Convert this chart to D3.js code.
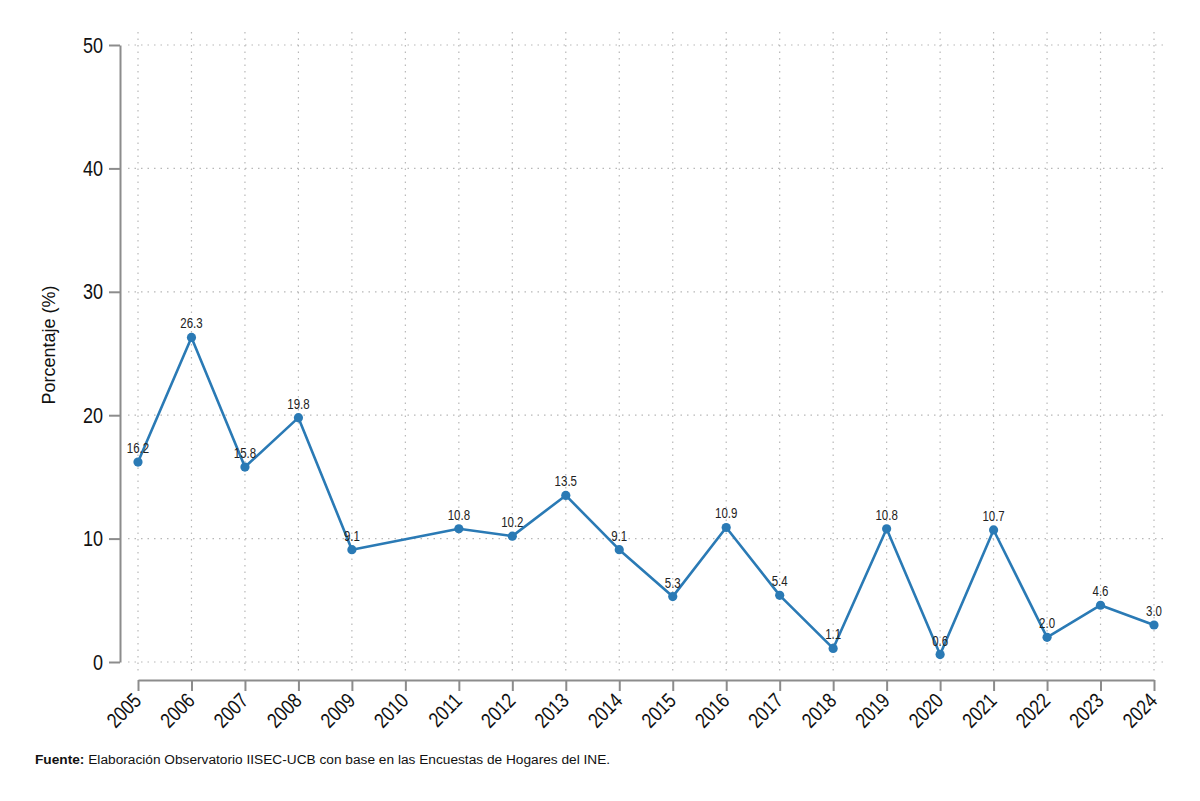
<!DOCTYPE html>
<html>
<head>
<meta charset="utf-8">
<script src="https://cdn.jsdelivr.net/npm/d3@7"></script>
<style>
  body { margin: 0; background: #fff; }
  svg { display: block; }
  text { font-family: "Liberation Sans", Arial, sans-serif; }
</style>
</head>
<body>
<div id="chart"></div>
<script>
// years and values (2010 has no data)
var years = [2005, 2006, 2007, 2008, 2009, 2010, 2011, 2012, 2013, 2014,
             2015, 2016, 2017, 2018, 2019, 2020, 2021, 2022, 2023, 2024];
var values = [16.2, 26.3, 15.8, 19.8, 9.1, null, 10.8, 10.2, 13.5, 9.1,
              5.3, 10.9, 5.4, 1.1, 10.8, 0.6, 10.7, 2.0, 4.6, 3.0];
var yTicks = [0, 10, 20, 30, 40, 50];

var yTitle = "Porcentaje (%)";
var sourceBold = "Fuente:";
var sourceText = " Elaboración Observatorio IISEC-UCB con base en las Encuestas de Hogares del INE.";

var width = 1200, height = 801;
var lineColor = "#2a7ab5";
var axisColor = "#8c8c8c";
var narrow = 0.82;   // no Arial Narrow installed, so squeeze the text

var svg = d3.select("#chart").append("svg")
    .attr("width", width)
    .attr("height", height);

var x = d3.scalePoint()
    .domain(years)
    .range([138, 1154]);

var y = d3.scaleLinear()
    .domain([0, 50])
    .range([662, 45]);

var data = years.map(function(d, i) { return { year: d, value: values[i] }; })
    .filter(function(d) { return d.value !== null; });

// gridlines
var grid = svg.append("g").attr("class", "grid");
grid.selectAll("line.gy")
    .data(yTicks)
    .enter().append("line")
    .attr("x1", 128).attr("x2", 1166)
    .attr("y1", function(d) { return y(d); })
    .attr("y2", function(d) { return y(d); })
    .attr("stroke", "#b8b8b8")
    .attr("stroke-width", 1.2)
    .attr("stroke-dasharray", "1.5,5");

grid.selectAll("line.gx")
    .data(years)
    .enter().append("line")
    .attr("x1", function(d) { return x(d); })
    .attr("x2", function(d) { return x(d); })
    .attr("y1", 32).attr("y2", 673)
    .attr("stroke", "#b8b8b8")
    .attr("stroke-width", 1.2)
    .attr("stroke-dasharray", "1.5,5");

// y axis
var yAxis = d3.axisLeft(y)
    .tickValues(yTicks)
    .tickSize(11)
    .tickPadding(6)
    .tickSizeOuter(0);

var gy = svg.append("g")
    .attr("transform", "translate(120,0)")
    .call(yAxis);
gy.select(".domain").attr("stroke", axisColor).attr("stroke-width", 2);
gy.selectAll(".tick line").attr("stroke", axisColor).attr("stroke-width", 2);
gy.selectAll(".tick text")
    .attr("font-size", 22)
    .attr("fill", "#111")
    .attr("x", -17 / narrow)
    .attr("transform", "scale(" + narrow + ",1)");

// x axis
var xAxis = d3.axisBottom(x)
    .tickSize(11)
    .tickPadding(4)
    .tickSizeOuter(0);

var gx = svg.append("g")
    .attr("transform", "translate(0,680)")
    .call(xAxis);
gx.select(".domain").attr("stroke", axisColor).attr("stroke-width", 2);
gx.selectAll(".tick line").attr("stroke", axisColor).attr("stroke-width", 2);
gx.selectAll(".tick text")
    .attr("font-size", 21)
    .attr("fill", "#111")
    .attr("text-anchor", "end")
    .attr("x", 0).attr("y", 0).attr("dy", 0)
    .attr("transform", "translate(4,22) rotate(-45) scale(" + narrow + ",1)");

// line
var line = d3.line()
    .x(function(d) { return x(d.year); })
    .y(function(d) { return y(d.value); });

svg.append("path")
    .datum(data)
    .attr("d", line)
    .attr("fill", "none")
    .attr("stroke", lineColor)
    .attr("stroke-width", 2.6)
    .attr("stroke-linejoin", "round");

svg.selectAll("circle.pt")
    .data(data)
    .enter().append("circle")
    .attr("cx", function(d) { return x(d.year); })
    .attr("cy", function(d) { return y(d.value); })
    .attr("r", 4.6)
    .attr("fill", lineColor);

svg.selectAll("text.lbl")
    .data(data)
    .enter().append("text")
    .attr("transform", function(d) {
        return "translate(" + x(d.year) + "," + (y(d.value) - 9) + ") scale(" + narrow + ",1)";
    })
    .attr("text-anchor", "middle")
    .attr("font-size", 14)
    .attr("fill", "#222")
    .text(function(d) { return d.value.toFixed(1); });

// y title
svg.append("text")
    .attr("transform", "translate(55,345) rotate(-90)")
    .attr("text-anchor", "middle")
    .attr("font-size", 18)
    .attr("fill", "#111")
    .text(yTitle);

// source note
var note = svg.append("text")
    .attr("x", 35)
    .attr("y", 764)
    .attr("font-size", 13.7)
    .attr("fill", "#111");
note.append("tspan").attr("font-weight", "bold").text(sourceBold);
note.append("tspan").text(sourceText);
</script>
</body>
</html>
